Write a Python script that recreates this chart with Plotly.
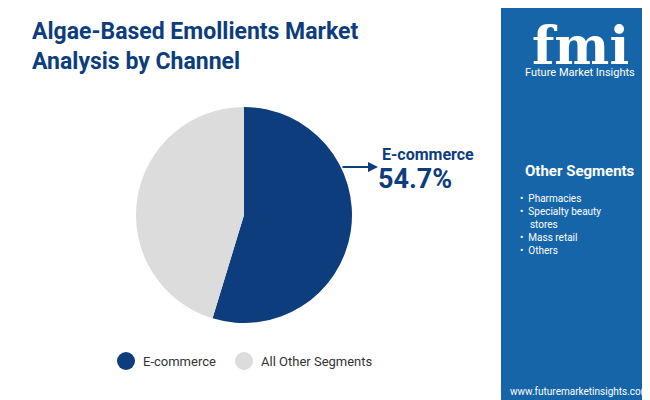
import plotly.graph_objects as go

labels = ["E-commerce", "All Other Segments"]
values = [54.7, 45.3]
colors = ["#0d3d7c", "#dcdcdc"]
other_segments = ["Pharmacies", "Specialty beauty<br>stores", "Mass retail", "Others"]

fig = go.Figure(go.Pie(labels=labels, values=values, sort=False, direction="clockwise",
                       rotation=0, marker=dict(colors=colors), textinfo="none",
                       domain=dict(x=[128/650, 344/650], y=[1-315/400, 1-99/400]),
                       showlegend=False, hoverinfo="label+percent"))

W, H = 650, 400
def px(x): return x / W
def py(y): return 1 - y / H

shapes = [
    dict(type="rect", xref="paper", yref="paper", x0=px(493), x1=1, y0=0, y1=1,
         fillcolor="#1565a8", line_width=0, layer="below"),
    dict(type="rect", xref="paper", yref="paper", x0=0, x1=px(165), y0=0, y1=4/H, fillcolor="#8dc63f", line_width=0),
    dict(type="rect", xref="paper", yref="paper", x0=px(165), x1=px(330), y0=0, y1=4/H, fillcolor="#e4572e", line_width=0),
    dict(type="rect", xref="paper", yref="paper", x0=px(330), x1=px(493), y0=0, y1=4/H, fillcolor="#7b2d8e", line_width=0),
]
P = dict(xref="paper", yref="paper", showarrow=False)
ann = [
    dict(**P, x=px(22), y=py(8), xanchor="left", yanchor="top", align="left",
         text="<b>Algae-Based Emollients Market<br>Analysis by Channel</b>",
         font=dict(family="Roboto", size=23, color="#0d3d7c")),
    dict(x=px(370), y=py(159), ax=-37, ay=0, xref="paper", yref="paper",
         text="", showarrow=True, arrowhead=2,
         arrowsize=1, arrowwidth=2, arrowcolor="#0d3d7c"),
    dict(**P, x=px(372), y=py(147), xanchor="left", yanchor="middle", text="<b>E-commerce</b>",
         font=dict(family="Roboto", size=16, color="#0d3d7c")),
    dict(**P, x=px(368), y=py(171), xanchor="left", yanchor="middle", text="<b>54.7%</b>",
         font=dict(family="Roboto", size=27, color="#0d3d7c")),
    dict(**P, x=px(572), y=py(38), xanchor="center", yanchor="middle", text="<b>fmi</b>",
         font=dict(family="DejaVu Serif", size=52, color="white")),
    dict(**P, x=px(572), y=py(64), xanchor="center", yanchor="middle", text="Future Market Insights",
         font=dict(family="Roboto", size=11, color="white")),
    dict(**P, x=px(572), y=py(163), xanchor="center", yanchor="middle", text="<b>Other Segments</b>",
         font=dict(family="Roboto", size=15, color="white")),
    dict(**P, x=px(510), y=py(183), xanchor="left", yanchor="top", align="left",
         text="<br>".join("•  " + s.replace("<br>", "<br>    ") for s in other_segments),
         font=dict(family="Roboto", size=10, color="white")),
    dict(**P, x=px(572), y=py(383), xanchor="center", yanchor="middle", text="www.futuremarketinsights.com",
         font=dict(family="Roboto", size=10, color="white")),
]
leg_y = py(353)
for lx, lab, col in [(118, labels[0], colors[0]), (236, labels[1], colors[1])]:
    shapes.append(dict(type="circle", xref="paper", yref="paper", x0=px(lx-9), x1=px(lx+9),
                       y0=leg_y-9/H, y1=leg_y+9/H, fillcolor=col, line_width=0))
    ann.append(dict(**P, x=px(lx+15), y=leg_y, xanchor="left", yanchor="middle", text=lab,
                    font=dict(family="Roboto", size=13, color="#333")))

fig.update_layout(width=W, height=H, margin=dict(l=0, r=0, t=0, b=0),
                  paper_bgcolor="white", plot_bgcolor="white",
                  shapes=shapes, annotations=ann)
fig.write_html("out.html")
